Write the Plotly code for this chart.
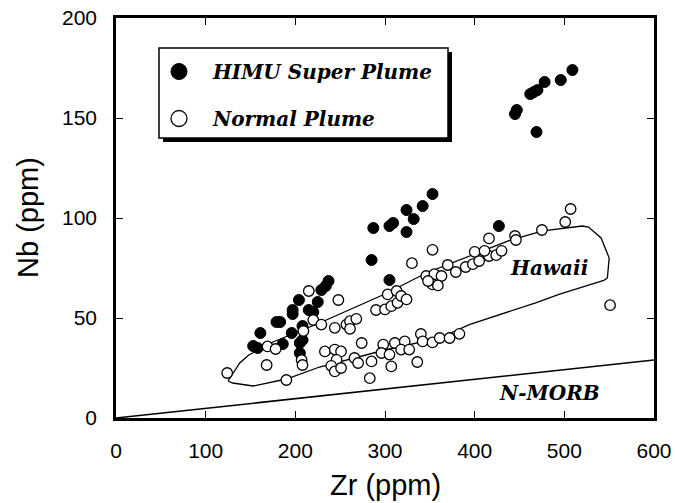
import plotly.graph_objects as go

# ---------------- data ----------------
himu_zr = [445, 447, 462, 466, 470, 478, 496, 509, 469,
           353, 342, 324, 332, 309, 305, 287, 324, 427, 285, 305,
           237, 234, 229, 225, 204, 215, 220, 197, 197, 179, 183, 208, 196,
           161, 153, 158, 186, 205, 208, 205]
himu_nb = [152, 154, 162, 163, 164, 168, 169, 174, 143,
           112, 106, 104, 99.5, 97.5, 96, 95, 93, 96, 79, 69,
           68.5, 66, 64, 58, 59, 54, 53, 54, 52, 48, 48, 46, 42.5,
           42.5, 36, 35, 37, 37.5, 39, 32.5]

normal_zr = [124, 168, 169, 178, 190, 207, 208, 209, 215, 220, 229,
             248, 244, 257, 261, 268, 261,
             290, 300, 307, 314, 303, 313, 318, 324,
             233, 244, 251, 246, 240, 244, 251, 266, 274, 270, 285, 283,
             298, 296, 305, 311, 322, 318, 327, 307, 336, 340, 342, 353, 361, 372, 383,
             330, 346, 355, 363, 353, 359, 348, 370, 353, 379, 390, 398, 405,
             416, 424, 400, 411, 430, 416, 445, 446, 475, 501, 507, 551]
normal_nb = [22.5, 26.5, 35.8, 34.5, 19, 29, 26.5, 43.5, 63.5, 49, 46.7,
             59, 45.1, 46.7, 48.4, 49.6, 44.6,
             54, 54.3, 55.9, 57.6, 61.8, 63.5, 61, 59.3,
             33.3, 34.2, 33.3, 29.1, 26.1, 23.3, 25, 30, 37.5, 27.5, 28.3, 19.9,
             36.7, 32.5, 31.7, 37.5, 38.3, 34.2, 34.2, 25.8, 28, 42, 38.3, 37.8, 40, 40, 42.1,
             77.4, 71, 71.9, 71, 66.8, 66.3, 68.5, 76.5, 84.1, 73, 75.5, 76.9, 78.5,
             81, 81.4, 83.1, 83.6, 83.6, 89.8, 91, 89, 94, 98, 104.5, 56.4]

hawaii_zr = [125, 130, 138, 148, 157, 175, 227, 300, 346, 440, 476, 520, 527,
             541, 550, 548, 544, 494, 468, 394, 361, 300, 227, 190, 153, 130, 125]
hawaii_nb = [18.5, 22, 27.5, 31.5, 33.5, 38, 47.5, 62, 72.5, 89, 93.6, 96, 95.5,
             90, 80, 70, 68.8, 61.8, 57.6, 46.7, 40, 34, 25.5, 19.5, 16, 17.5, 18.5]

nmorb_zr = [0, 600]
nmorb_nb = [0, 29]

x_ticks = [0, 100, 200, 300, 400, 500, 600]
y_ticks = [0, 50, 100, 150, 200]

# ---------------- figure ----------------
W, H = 675, 503
PL, PT, PR, PB = 116, 18, 654, 418      # plot area in page pixels
L, T, R, B = PL, PT, W - PR, H - PB
PW, PH = PR - PL, PB - PT

def px2paper(x, y):
    return (x - PL) / PW, (PB - y) / PH

serif = dict(family="DejaVu Serif", size=20, color="black", weight="bold", style="italic")
NB = "\u00a0\u00a0"

fig = go.Figure()
fig.add_trace(go.Scatter(x=nmorb_zr, y=nmorb_nb, mode="lines",
                         line=dict(color="black", width=1.5), showlegend=False, hoverinfo="skip"))
fig.add_trace(go.Scatter(x=hawaii_zr, y=hawaii_nb, mode="lines",
                         line=dict(color="black", width=1.3), showlegend=False, hoverinfo="skip"))
fig.add_trace(go.Scatter(x=himu_zr, y=himu_nb, mode="markers", name="HIMU Super Plume",
                         marker=dict(size=11, color="black", line=dict(color="black", width=1)),
                         showlegend=False))
fig.add_trace(go.Scatter(x=normal_zr, y=normal_nb, mode="markers", name="Normal Plume",
                         marker=dict(size=10.5, color="white", line=dict(color="black", width=1.3)),
                         showlegend=False))
# legend entries (larger symbols as in the reference)
fig.add_trace(go.Scatter(x=[None], y=[None], mode="markers", name=NB + "HIMU Super Plume",
                         legendgroup="a",
                         marker=dict(size=18, color="black", line=dict(color="black", width=1))))
fig.add_trace(go.Scatter(x=[None], y=[None], mode="markers", name=NB + "Normal Plume",
                         legendgroup="b",
                         marker=dict(size=17, color="white", line=dict(color="black", width=1.3))))

# legend frame with drop shadow
sx0, sy0 = px2paper(163, 142)
sx1, sy1 = px2paper(452, 52)
bx0, by0 = px2paper(159, 138)
bx1, by1 = px2paper(448, 48)
fig.add_shape(type="rect", xref="paper", yref="paper", x0=sx0, y0=sy0, x1=sx1, y1=sy1,
              fillcolor="black", line=dict(color="black", width=0), layer="above")
fig.add_shape(type="rect", xref="paper", yref="paper", x0=bx0, y0=by0, x1=bx1, y1=by1,
              fillcolor="white", line=dict(color="black", width=1.5), layer="above")

lx, ly = px2paper(159, 52)
axis_common = dict(showgrid=False, zeroline=False, showline=True, linecolor="black", linewidth=2.5,
                   mirror="ticks", ticks="inside", ticklen=7, tickwidth=1.3, tickcolor="black",
                   tickfont=dict(family="Liberation Sans", size=21, color="black"),
                   ticklabelstandoff=12, automargin=False, ticklabeloverflow="allow")
fig.update_layout(
    width=W, height=H,
    margin=dict(l=L, r=R, t=T, b=B, autoexpand=False),
    paper_bgcolor="white", plot_bgcolor="white",
    showlegend=True,
    legend=dict(x=lx, y=ly, xanchor="left", yanchor="top",
                bgcolor="rgba(0,0,0,0)", borderwidth=0,
                font=serif, tracegroupgap=18, itemsizing="trace"),
    xaxis=dict(range=[0, 600], tickvals=x_ticks, ticktext=[str(v) for v in x_ticks], **axis_common),
    yaxis=dict(range=[0, 200], tickvals=y_ticks, ticktext=[str(v) for v in y_ticks], **axis_common),
    annotations=[
        dict(text="Zr (ppm)", xref="paper", yref="paper", x=0.5, y=0, yshift=-67,
             xanchor="center", yanchor="middle", showarrow=False,
             font=dict(family="Liberation Sans", size=29, color="black")),
        dict(text="Nb (ppm)", xref="paper", yref="paper", x=0, y=0.5, xshift=-88,
             xanchor="center", yanchor="middle", textangle=-90, showarrow=False,
             font=dict(family="Liberation Sans", size=29, color="black")),
        dict(text="Hawaii", x=483, y=75, xref="x", yref="y", showarrow=False,
             xanchor="center", yanchor="middle", font=serif),
        dict(text="N-MORB", x=484, y=12.4, xref="x", yref="y", showarrow=False,
             xanchor="center", yanchor="middle", font=serif),
    ],
)

fig.write_html("out.html",
               config={"displayModeBar": False},
               post_script="document.body.style.margin='0';document.body.style.overflow='hidden';")
